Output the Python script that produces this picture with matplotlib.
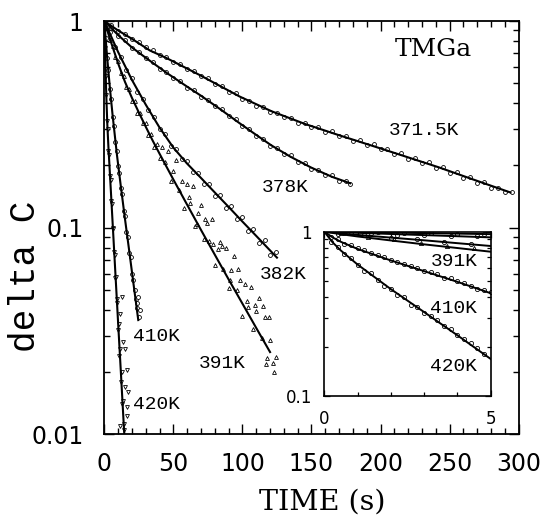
import numpy as np
import matplotlib
matplotlib.use("Agg")
import matplotlib.pyplot as plt
from matplotlib.ticker import FixedLocator, LogLocator, MultipleLocator, NullFormatter

# ---- fit lines (main panel) ----
t_3715 = [0, 10, 20, 33, 45, 69, 98, 121, 145, 170, 194, 218, 242, 266, 294]
c_3715 = [1, 0.90, 0.82, 0.72, 0.662, 0.548, 0.431, 0.366, 0.318, 0.280, 0.249, 0.221, 0.196, 0.172, 0.148]
t_378 = [0, 10, 20, 30, 45, 60, 70, 85, 98, 110, 121, 135, 150, 165, 178]
c_378 = [1, 0.855, 0.745, 0.664, 0.562, 0.481, 0.435, 0.370, 0.320, 0.281, 0.250, 0.220, 0.195, 0.176, 0.164]
t_382 = [0, 10, 20, 30, 40, 50, 60, 70, 80, 90, 100, 110, 120, 125]
c_382 = [1, 0.708, 0.519, 0.394, 0.305, 0.244, 0.204, 0.174, 0.148, 0.126, 0.107, 0.0912, 0.0776, 0.0716]
t_391 = [0, 5, 10, 15, 20, 25, 30, 35, 40, 50, 60, 70, 80, 90, 100, 110, 120]
c_391 = [1, 0.785, 0.624, 0.507, 0.425, 0.361, 0.308, 0.264, 0.228, 0.171, 0.129, 0.0975, 0.0740, 0.0562, 0.0429, 0.0327, 0.0250]
t_410 = [0, 2, 4, 6, 9.2, 12, 15, 18, 20.8, 24.6]
c_410 = [1, 0.676, 0.479, 0.351, 0.224, 0.158, 0.110, 0.0776, 0.0557, 0.0357]
t_420 = [0, 0.5, 1, 1.5, 2.2, 3, 4, 5, 7.7, 10, 12, 14.3, 14.5]
c_420 = [1, 0.724, 0.550, 0.427, 0.316, 0.245, 0.186, 0.141, 0.0661, 0.0347, 0.0200, 0.0105, 0.0100]

# ---- measured points (main panel) ----
pt_3715 = list(range(0, 300, 5))
pc_3715 = [1.00, 0.955, 0.895, 0.865, 0.815, 0.79, 0.745, 0.725, 0.685, 0.668,
           0.632, 0.620, 0.584, 0.572, 0.540, 0.528, 0.494, 0.485, 0.455, 0.446,
           0.418, 0.412, 0.390, 0.385, 0.364, 0.360, 0.342, 0.338, 0.322, 0.322,
           0.306, 0.306, 0.291, 0.292, 0.277, 0.278, 0.264, 0.266, 0.251, 0.253,
           0.239, 0.241, 0.227, 0.229, 0.216, 0.218, 0.205, 0.207, 0.195, 0.196,
           0.184, 0.186, 0.174, 0.176, 0.164, 0.166, 0.156, 0.156, 0.148, 0.148]
pt_378 = list(range(0, 180, 5)) + [178]
pc_378 = [1.0, 0.93, 0.85, 0.805, 0.74, 0.71, 0.66, 0.633, 0.589, 0.567,
          0.528, 0.512, 0.476, 0.462, 0.431, 0.416, 0.386, 0.374, 0.346, 0.335,
          0.310, 0.300, 0.277, 0.269, 0.248, 0.243, 0.226, 0.224, 0.208, 0.206,
          0.192, 0.191, 0.179, 0.179, 0.168, 0.169, 0.162]
pt_382 = list(range(0, 125, 4))
pc_382 = [1.0, 0.88, 0.75, 0.67, 0.58, 0.53, 0.455, 0.42, 0.37, 0.345,
          0.30, 0.285, 0.248, 0.24, 0.214, 0.21, 0.186, 0.184, 0.163, 0.162,
          0.143, 0.144, 0.125, 0.127, 0.110, 0.112, 0.096, 0.099, 0.084, 0.087,
          0.074, 0.076]
pt_391 = list(range(0, 125, 2)) + [115, 119, 117, 123, 61, 67, 73, 79, 85, 91, 97, 103, 109]
pc_391 = [1.00, 0.92, 0.81, 0.76, 0.67, 0.64, 0.56, 0.54, 0.48, 0.47,
          0.41, 0.41, 0.36, 0.36, 0.32, 0.32, 0.28, 0.285, 0.245, 0.255,
          0.218, 0.247, 0.208, 0.235, 0.169, 0.187, 0.212, 0.152, 0.169, 0.124,
          0.162, 0.131, 0.159, 0.102, 0.118, 0.129, 0.0881, 0.105, 0.0865, 0.110,
          0.066, 0.0785, 0.0852, 0.0628, 0.080, 0.0513, 0.0625, 0.073, 0.050, 0.0557,
          0.0374, 0.0535, 0.0413, 0.0516, 0.0322, 0.0393, 0.0458, 0.0294, 0.0368, 0.0235,
          0.0287, 0.0221, 0.0236,
          0.042, 0.037, 0.022, 0.020,
          0.141, 0.104, 0.110, 0.0834, 0.0812, 0.056, 0.0628, 0.0443, 0.0423]
pt_410 = list(range(0, 26)) + [24.5, 25.5, 23.5]
pc_410 = [1.0, 0.83, 0.66, 0.58, 0.47, 0.42, 0.345, 0.31, 0.26, 0.236,
          0.198, 0.183, 0.155, 0.145, 0.121, 0.114, 0.095, 0.090, 0.075, 0.072,
          0.060, 0.056, 0.050, 0.045, 0.041, 0.037, 0.046, 0.040, 0.043]
pt_420 = [x * 0.5 for x in range(30)] + [11.3, 12.6, 13.6, 15.0, 16.4, 15.0, 17.3, 16.3, 16.5, 11.3]
pc_420 = [1.0, 0.74, 0.54, 0.44, 0.33, 0.30, 0.235, 0.225, 0.178, 0.17,
          0.135, 0.13, 0.100, 0.098, 0.076, 0.074, 0.057, 0.058, 0.043, 0.045,
          0.032, 0.034, 0.024, 0.026, 0.018, 0.020, 0.014, 0.0145, 0.0105, 0.0112,
          0.038, 0.046, 0.028, 0.026, 0.0205, 0.0169, 0.016, 0.0136, 0.0123, 0.011]

# ---- inset (first 5 s) ----
it_line = [0, 0.5, 1, 2, 3, 4, 5]
ic_3715 = [1, 0.997, 0.994, 0.987, 0.980, 0.973, 0.966]
ic_378 = [1, 0.992, 0.984, 0.968, 0.953, 0.938, 0.923]
ic_382 = [1, 0.975, 0.955, 0.92, 0.886, 0.851, 0.818]
ic_391 = [1, 0.965, 0.935, 0.884, 0.837, 0.795, 0.755]
it_fast = [0, 0.25, 0.5, 1, 1.5, 2, 3, 4, 5]
ic_410 = [1, 0.923, 0.867, 0.785, 0.724, 0.668, 0.575, 0.495, 0.422]
ic_420 = [1, 0.861, 0.767, 0.631, 0.531, 0.447, 0.324, 0.234, 0.168]

ipt_3715 = [0.8, 1.6, 2.4, 3.2, 4.0, 4.8]
ipc_3715 = [0.99, 0.99, 0.985, 0.975, 0.97, 0.965]
ipt_378 = [0.6, 1.4, 2.2, 3.0, 3.8, 4.6]
ipc_378 = [0.982, 0.985, 0.958, 0.96, 0.935, 0.935]
ipt_382 = [0.4, 1.2, 2.0, 2.8, 3.6, 4.4]
ipc_382 = [0.97, 0.955, 0.91, 0.90, 0.86, 0.845]
ipt_391 = [0.5, 1.3, 2.1, 2.9, 3.7, 4.5]
ipc_391 = [0.975, 0.93, 0.90, 0.85, 0.82, 0.79]
ipt_410 = [0.2 * k for k in range(1, 26)]
ipc_410 = [0.93, 0.90, 0.84, 0.83, 0.79, 0.77, 0.74, 0.72, 0.70, 0.675,
           0.65, 0.64, 0.62, 0.60, 0.58, 0.565, 0.55, 0.525, 0.52, 0.50,
           0.49, 0.47, 0.445, 0.44, 0.43]
ipt_420 = [0.2 * k for k in range(1, 25)]
ipc_420 = [0.87, 0.81, 0.73, 0.69, 0.63, 0.58, 0.56, 0.51, 0.47, 0.45,
           0.41, 0.40, 0.36, 0.35, 0.32, 0.305, 0.29, 0.265, 0.255, 0.235,
           0.222, 0.21, 0.195, 0.18]

labels = ["371.5K", "378K", "382K", "391K", "410K", "420K"]

tickfont = "DejaVu Sans"
labfont = "Liberation Mono"
serif = "DejaVu Serif"

fig = plt.figure(figsize=(5.44, 5.20), dpi=100)
ax = fig.add_axes([0.1917, 0.1648, 0.7618, 0.7948])

lines = [(t_3715, c_3715), (t_378, c_378), (t_382, c_382), (t_391, c_391), (t_410, c_410), (t_420, c_420)]
pts = [(pt_3715, pc_3715, 'o'), (pt_378, pc_378, 'o'), (pt_382, pc_382, 'o'),
       (pt_391, pc_391, '^'), (pt_410, pc_410, 'o'), (pt_420, pc_420, 'v')]

for (px, py, m) in pts:
    ax.plot(px, py, linestyle='none', marker=m, ms=2.8, mfc='white', mec='black', mew=0.6)
for (lx, ly) in lines:
    ax.plot(lx, ly, color='black', lw=1.5)

ax.set_yscale('log')
ax.set_xlim(0, 300)
ax.set_ylim(0.01, 1)
ax.xaxis.set_major_locator(MultipleLocator(50))
ax.xaxis.set_minor_locator(MultipleLocator(10))
ax.yaxis.set_major_locator(FixedLocator([0.01, 0.1, 1]))
ax.yaxis.set_minor_locator(LogLocator(base=10, subs=np.arange(2, 10)))
ax.yaxis.set_minor_formatter(NullFormatter())
ax.set_yticklabels(["0.01", "0.1", "1"])
ax.tick_params(which='both', direction='in', top=True, right=True, width=1)
ax.tick_params(which='major', length=7)
ax.tick_params(which='minor', length=4)
ax.tick_params(axis='y', which='major', pad=15, labelsize=17)
ax.tick_params(axis='x', which='major', pad=13, labelsize=17)
for lab in ax.get_xticklabels() + ax.get_yticklabels():
    lab.set_family(tickfont)
for s in ax.spines.values():
    s.set_linewidth(1.3)

lab_pos = [(0.686, 0.736), (0.380, 0.597), (0.376, 0.386), (0.227, 0.172), (0.070, 0.236), (0.070, 0.071)]
for name, (x, y) in zip(labels, lab_pos):
    ax.text(x, y, name, transform=ax.transAxes, ha='left', va='center',
            fontsize=14, family=labfont)
ax.text(0.702, 0.930, "TMGa", transform=ax.transAxes, ha='left', va='center',
        fontsize=18, family=serif)

fig.text(0.592, 0.035, "TIME (s)", ha='center', va='center', fontsize=20.5, family=serif)
fig.text(0.046, 0.469, "delta C", ha='center', va='center', rotation=90, fontsize=26, family=labfont)

# inset
ins = fig.add_axes([0.5961, 0.2385, 0.3059, 0.316])
ins_lines = [(it_line, ic_3715), (it_line, ic_378), (it_line, ic_382), (it_line, ic_391),
             (it_fast, ic_410), (it_fast, ic_420)]
ins_pts = [(ipt_3715, ipc_3715, 'o'), (ipt_378, ipc_378, 'o'), (ipt_382, ipc_382, 'o'),
           (ipt_391, ipc_391, '^'), (ipt_410, ipc_410, 'o'), (ipt_420, ipc_420, 'o')]
for (px, py, m) in ins_pts:
    ins.plot(px, py, linestyle='none', marker=m, ms=3.0, mfc='white', mec='black', mew=0.6)
for (lx, ly) in ins_lines:
    ins.plot(lx, ly, color='black', lw=1.4)
ins.set_yscale('log')
ins.set_xlim(0, 5)
ins.set_ylim(0.1, 1)
ins.xaxis.set_major_locator(FixedLocator([0, 5]))
ins.xaxis.set_minor_locator(MultipleLocator(1))
ins.set_xticklabels(["0", "5"])
ins.yaxis.set_major_locator(FixedLocator([0.1, 1]))
ins.yaxis.set_minor_locator(LogLocator(base=10, subs=np.arange(2, 10)))
ins.yaxis.set_minor_formatter(NullFormatter())
ins.set_yticklabels(["0.1", "1"])
ins.tick_params(which='both', direction='in', top=True, right=True, width=0.9)
ins.tick_params(which='major', length=4)
ins.tick_params(which='minor', length=3)
ins.tick_params(axis='y', which='major', pad=9, labelsize=12)
ins.tick_params(axis='x', which='major', pad=10, labelsize=12)
for lab in ins.get_xticklabels() + ins.get_yticklabels():
    lab.set_family(tickfont)
for s in ins.spines.values():
    s.set_linewidth(1.2)
for name, y in zip(["391K", "410K", "420K"], [0.816, 0.53, 0.179]):
    ins.text(0.92, y, name, transform=ins.transAxes, ha='right', va='center',
             fontsize=14, family=labfont)

fig.savefig("out.png", dpi=100)
